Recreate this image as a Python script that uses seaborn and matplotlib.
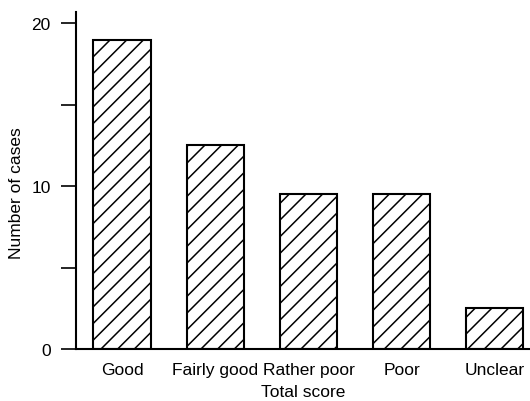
import matplotlib
matplotlib.use("Agg")
import matplotlib.pyplot as plt
import pandas as pd
import seaborn as sns

categories = ["Good", "Fairly good", "Rather poor", "Poor", "Unclear"]
cases = [19, 12.5, 9.5, 9.5, 2.5]
y_ticks = [0, 5, 10, 15, 20]
y_tick_labels = ["0", "", "10", "", "20"]

sns.set_style("ticks")
plt.rcParams["font.family"] = ["Liberation Sans", "DejaVu Sans"]
plt.rcParams["hatch.linewidth"] = 1.1
for key in ["text.color", "axes.labelcolor", "xtick.color", "ytick.color", "axes.edgecolor"]:
    plt.rcParams[key] = "black"

df = pd.DataFrame({"score": categories, "cases": cases})

fig = plt.figure(figsize=(5.3, 4.02), dpi=100)
ax = fig.add_axes([0.143, 0.129, 0.857, 0.839])

sns.barplot(
    data=df,
    x="score",
    y="cases",
    color="white",
    edgecolor="black",
    linewidth=1.5,
    hatch="//",
    width=0.62,
    ax=ax,
)

ax.set_xlim(-0.5, 4.38)
ax.set_ylim(0, 20.7)
ax.set_yticks(y_ticks)
ax.set_yticklabels(y_tick_labels, fontsize=12.5)
ax.tick_params(axis="y", length=11, width=1.2, pad=7)
ax.tick_params(axis="x", length=0, pad=9, labelsize=12.5)

ax.set_xlabel("Total score", fontsize=12.5, labelpad=5)
ax.set_ylabel("Number of cases", fontsize=12.5)
ax.yaxis.set_label_coords(-0.113, 0.466)

for side in ["top", "right"]:
    ax.spines[side].set_visible(False)
for side in ["left", "bottom"]:
    ax.spines[side].set_linewidth(1.5)

fig.savefig("out.png", dpi=100)
plt.close(fig)
